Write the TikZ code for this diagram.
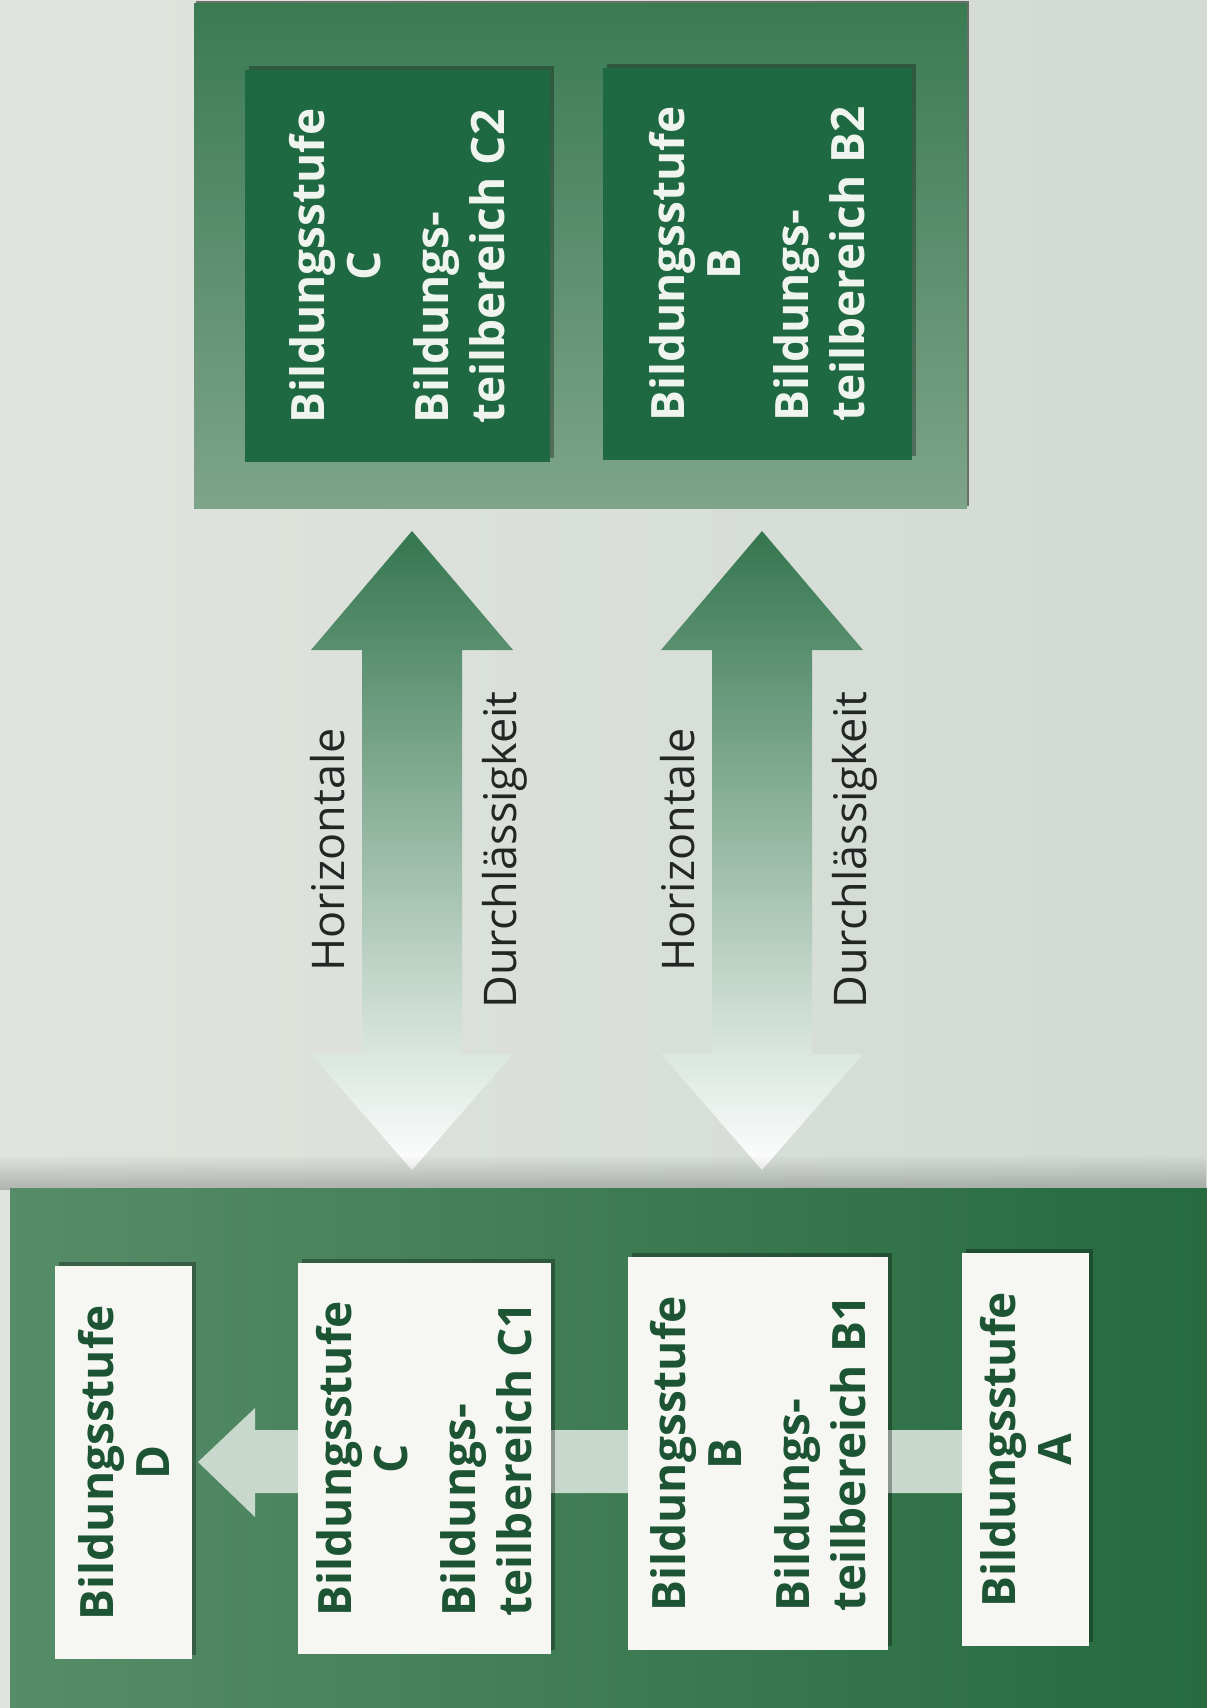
\documentclass[tikz,border=0pt]{standalone}
\usepackage{fontspec}
\setmainfont{Open Sans}
\usetikzlibrary{shadows,fadings}
\definecolor{bgL}{RGB}{224,228,222}
\definecolor{bgR}{RGB}{210,218,211}
\definecolor{gDark}{RGB}{30,104,66}
\definecolor{frameTop}{RGB}{58,123,82}
\definecolor{frameBot}{RGB}{126,164,137}
\definecolor{baseL}{RGB}{86,141,104}
\definecolor{baseR}{RGB}{38,106,63}
\definecolor{paper}{RGB}{246,247,242}
\definecolor{ink}{RGB}{28,84,52}
\definecolor{whiteink}{RGB}{240,244,238}
\definecolor{arrowG}{RGB}{52,118,78}
\definecolor{arrowM}{RGB}{168,188,174}
\definecolor{pale}{RGB}{200,216,205}
\definecolor{labelink}{RGB}{34,38,36}
\newsavebox\stbox
\newcommand\ctr[1]{\sbox\stbox{Bildungsstufe}\makebox[\wd\stbox]{#1}}
\begin{document}
\begin{tikzpicture}[x=1pt,y=-1pt,
  boxshadow/.style={drop shadow={shadow xshift=4pt, shadow yshift=4pt, opacity=0.3, fill=black}},
  wbox/.style={fill=paper, draw=none, inner sep=0pt, outer sep=0pt, boxshadow},
  dbox/.style={fill=gDark, draw=none, inner sep=0pt, outer sep=0pt, boxshadow},
  btxt/.style={rotate=90, font=\fontsize{46}{56}\selectfont\bfseries, inner sep=0pt},
  wtxt/.style={btxt, text=ink},
  dtxt/.style={btxt, text=whiteink},
  ltxt/.style={rotate=90, font=\fontsize{45}{54}\selectfont, text=labelink, inner sep=0pt, anchor=base},
  biarrow/.style={top color=arrowG, middle color=arrowM, bottom color=white},
]
\useasboundingbox (0,0) rectangle (1207,1708);
\shade[left color=bgL, right color=bgR] (0,0) rectangle (1207,1708);

% ---------- top frame with dark boxes
\node[minimum width=773pt, minimum height=505pt, inner sep=0pt, top color=frameTop, bottom color=frameBot,
      drop shadow={shadow xshift=2pt, shadow yshift=2pt, opacity=0.5, fill=black}] (top) at (580.5,255.5) {};
\node[dbox, minimum width=305pt, minimum height=392pt] (C2) at (397.5,266) {};
\node[dtxt, align=left] (C2t) at (C2.center) {Bildungsstufe\\\ctr{C}\\[12pt]Bildungs-\\teilbereich C2};
\node[dbox, minimum width=309pt, minimum height=392pt] (B2) at (757.5,264) {};
\node[dtxt, align=left] (B2t) at (B2.center) {Bildungsstufe\\\ctr{B}\\[12pt]Bildungs-\\teilbereich B2};

% ---------- double arrows
\shade[biarrow] (412,531) -- (513,650) -- (462,650) -- (462,1054) -- (513,1054) -- (412,1170)
  -- (311,1054) -- (362,1054) -- (362,650) -- (311,650) -- cycle;
\shade[biarrow] (762,531) -- (863,650) -- (812,650) -- (812,1054) -- (863,1054) -- (762,1170)
  -- (661,1054) -- (712,1054) -- (712,650) -- (661,650) -- cycle;
\node[ltxt] (h1) at (344,850) {Horizontale};
\node[ltxt] (d1) at (516,850) {Durchlässigkeit};
\node[ltxt] (h2) at (694,850) {Horizontale};
\node[ltxt] (d2) at (866,850) {Durchlässigkeit};

% ---------- bottom frame
\fill[black, opacity=0.22, path fading=north] (0,1155) rectangle (1207,1190);
\node[minimum width=1197pt, minimum height=520pt, inner sep=0pt, left color=baseL, right color=baseR] (base) at (608.5,1448) {};
\fill[pale] (198,1462) -- (255,1408) -- (255,1430) -- (965,1430) -- (965,1493) -- (255,1493) -- (255,1517) -- cycle;

\node[wbox, minimum width=137pt, minimum height=393pt] (D) at (123.5,1462.5) {};
\node[wtxt, align=center] (Dt) at (D.center) {Bildungsstufe\\D};
\node[wbox, minimum width=253pt, minimum height=391pt] (C1) at (424.5,1458.5) {};
\node[wtxt, align=left] (C1t) at (C1.center) {Bildungsstufe\\\ctr{C}\\[12pt]Bildungs-\\teilbereich C1};
\node[wbox, minimum width=260pt, minimum height=393pt] (B1) at (758,1453.5) {};
\node[wtxt, align=left] (B1t) at (B1.center) {Bildungsstufe\\\ctr{B}\\[12pt]Bildungs-\\teilbereich B1};
\node[wbox, minimum width=127pt, minimum height=393pt] (A) at (1025.5,1449.5) {};
\node[wtxt, align=center] (At) at (A.center) {Bildungsstufe\\A};
\end{tikzpicture}
\end{document}
